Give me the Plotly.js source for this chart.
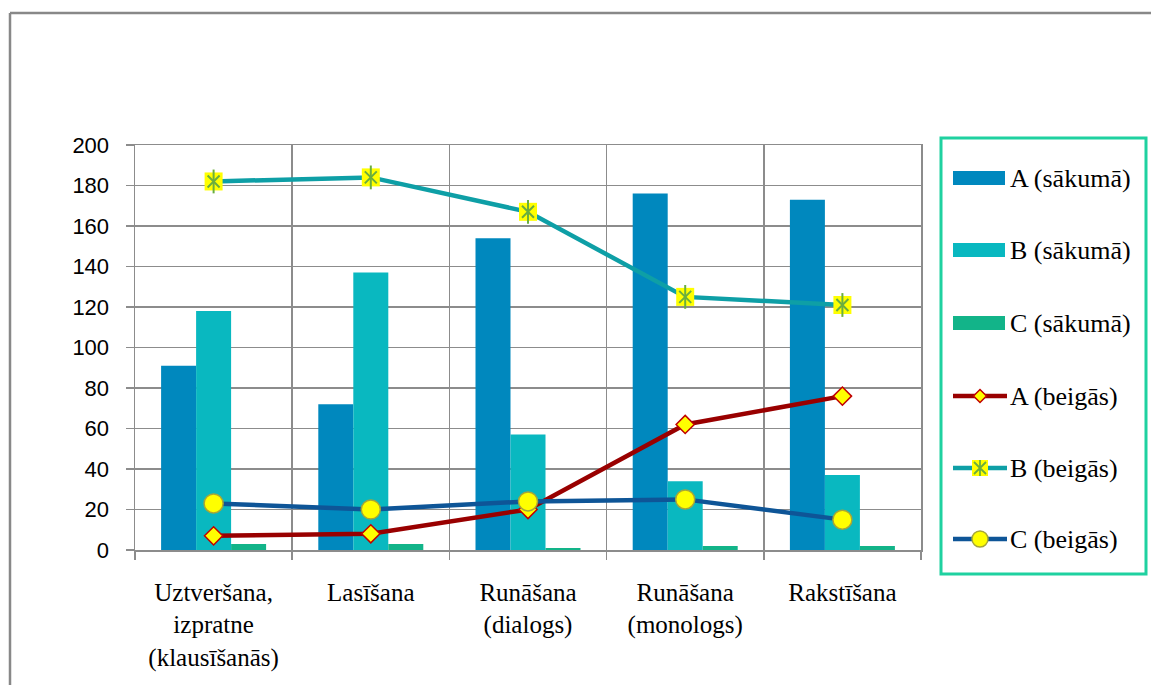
<!DOCTYPE html>
<html>
<head>
<meta charset="utf-8">
<script src="https://cdn.plot.ly/plotly-3.0.1.min.js"></script>
<style>html,body{margin:0;padding:0;background:#fff;}#chart{width:1151px;height:685px;}</style>
</head>
<body>
<div id="chart"></div>
<script>
const categories = ["Uztveršana,<br>izpratne<br>(klausīšanās)", "Lasīšana", "Runāšana<br>(dialogs)", "Runāšana<br>(monologs)", "Rakstīšana"];
const seriesNames = ["A (sākumā)", "B (sākumā)", "C (sākumā)", "A (beigās)", "B (beigās)", "C (beigās)"];
const aStart = [91, 72, 154, 176, 173];
const bStart = [118, 137, 57, 34, 37];
const cStart = [3, 3, 1, 2, 2];
const aEnd = [7, 8, 20, 62, 76];
const bEnd = [182, 184, 167, 125, 121];
const cEnd = [23, 20, 24, 25, 15];
const yTicks = [0, 20, 40, 60, 80, 100, 120, 140, 160, 180, 200];

const W = 1151, H = 685;
const PL = 135, PR = 921, PT = 145, PB = 550;
const px = x => (x - PL) / (PR - PL);
const py = y => (PB - y) / (PB - PT);

const colA = '#0088BE', colB = '#09B8C0', colC = '#12B489';
const lineA = '#990000', lineB = '#0E9FA6', lineC = '#0E5597';
const yellow = '#FFFF00';
const green = '#6AAE3E';
const grid = '#8C8C8C';
const serif = 'Liberation Serif, serif';
const sans = 'Liberation Sans, sans-serif';

const traces = [
  {type:'bar', x:categories, y:aStart, name:seriesNames[0], marker:{color:colA}, showlegend:false},
  {type:'bar', x:categories, y:bStart, name:seriesNames[1], marker:{color:colB}, showlegend:false},
  {type:'bar', x:categories, y:cStart, name:seriesNames[2], marker:{color:colC}, showlegend:false},
  {type:'scatter', mode:'lines+markers', x:categories, y:aEnd, name:seriesNames[3], showlegend:false,
   line:{color:lineA, width:4.5}, marker:{symbol:'diamond', size:14, color:yellow, line:{color:'#C00000', width:1.5}}},
  {type:'scatter', mode:'lines+markers', x:categories, y:bEnd, name:seriesNames[4], showlegend:false,
   line:{color:lineB, width:4.5}, marker:{symbol:'square', size:18, color:yellow, line:{width:0}}},
  {type:'scatter', mode:'markers', x:categories, y:bEnd, name:seriesNames[4], showlegend:false, hoverinfo:'skip',
   marker:{symbol:'x-thin-open', size:12, color:green, line:{color:green, width:2}}},
  {type:'scatter', mode:'markers', x:categories, y:bEnd, name:seriesNames[4], showlegend:false, hoverinfo:'skip',
   marker:{symbol:'line-ns-open', size:17, color:green, line:{color:green, width:2}}},
  {type:'scatter', mode:'lines+markers', x:categories, y:cEnd, name:seriesNames[5], showlegend:false,
   line:{color:lineC, width:4.5}, marker:{symbol:'circle', size:19, color:yellow, line:{color:'#A6A638', width:1.5}}}
];

// custom legend
const shapes = [];
const annotations = [];
// outer frame
shapes.push({type:'line', xref:'paper', yref:'paper', x0:px(10), x1:px(1151), y0:py(13), y1:py(13), line:{color:'#888888', width:2.5}});
shapes.push({type:'line', xref:'paper', yref:'paper', x0:px(10), x1:px(10), y0:py(13), y1:py(685), line:{color:'#888888', width:2.5}});
// legend box
shapes.push({type:'rect', xref:'paper', yref:'paper', x0:px(941), x1:px(1146), y0:py(138), y1:py(574), line:{color:'#1FD1A0', width:3}, fillcolor:'rgba(0,0,0,0)'});
const legY = [178, 250, 323, 396, 468, 539];
const barCols = [colA, colB, colC];
const lineCols = [lineA, lineB, lineC];
for (let i = 0; i < 6; i++) {
  const yc = legY[i];
  if (i < 3) {
    shapes.push({type:'rect', xref:'paper', yref:'paper', x0:px(953), x1:px(1005), y0:py(yc-7), y1:py(yc+7), line:{width:0}, fillcolor:barCols[i]});
  } else {
    shapes.push({type:'line', xref:'paper', yref:'paper', x0:px(953), x1:px(1007), y0:py(yc), y1:py(yc), line:{color:lineCols[i-3], width:4.5}});
    const cx = 980;
    if (i === 3) {
      const r = 6.5;
      shapes.push({type:'path', xref:'paper', yref:'paper',
        path:`M${px(cx-r)},${py(yc)} L${px(cx)},${py(yc-r)} L${px(cx+r)},${py(yc)} L${px(cx)},${py(yc+r)} Z`,
        fillcolor:yellow, line:{color:'#C00000', width:1.5}});
    } else if (i === 4) {
      const r = 8;
      shapes.push({type:'rect', xref:'paper', yref:'paper', x0:px(cx-r), x1:px(cx+r), y0:py(yc-r), y1:py(yc+r), fillcolor:yellow, line:{width:0}});
      const a = 6;
      shapes.push({type:'path', xref:'paper', yref:'paper',
        path:`M${px(cx)},${py(yc-8)} L${px(cx)},${py(yc+8)} M${px(cx-a)},${py(yc-a)} L${px(cx+a)},${py(yc+a)} M${px(cx+a)},${py(yc-a)} L${px(cx-a)},${py(yc+a)}`,
        line:{color:green, width:1.8}});
    } else {
      const r = 8;
      shapes.push({type:'circle', xref:'paper', yref:'paper', x0:px(cx-r), x1:px(cx+r), y0:py(yc-r), y1:py(yc+r), fillcolor:yellow, line:{color:'#A6A638', width:1.5}});
    }
  }
  annotations.push({xref:'paper', yref:'paper', x:px(1008), y:py(yc), xanchor:'left', yanchor:'middle',
    text:seriesNames[i], showarrow:false, font:{family:serif, size:26, color:'#000'}});
}

const layout = {
  width:W, height:H,
  margin:{l:PL, r:W-PR, t:PT, b:H-PB, pad:0},
  paper_bgcolor:'#fff', plot_bgcolor:'#fff',
  showlegend:false,
  barmode:'group', bargap:0.332, bargroupgap:0,
  xaxis:{type:'category', tickson:'boundaries', showgrid:true, gridcolor:grid, gridwidth:1.5,
    showline:true, linecolor:grid, linewidth:1.5, mirror:true,
    ticks:'outside', ticklen:8, tickcolor:grid, tickwidth:1.5,
    tickfont:{family:serif, size:25, color:'#000'}, ticklabelstandoff:19, fixedrange:true},
  yaxis:{range:[0,200], tickvals:yTicks, showgrid:true, gridcolor:grid, gridwidth:1.5,
    showline:true, linecolor:grid, linewidth:1.5, mirror:true, zeroline:false,
    ticks:'outside', ticklen:8, tickcolor:grid, tickwidth:1.5,
    tickfont:{family:sans, size:22, color:'#000'}, ticklabelstandoff:12, fixedrange:true},
  shapes:shapes,
  annotations:annotations
};

Plotly.newPlot('chart', traces, layout, {displayModeBar:false, staticPlot:true});
</script>
</body>
</html>
